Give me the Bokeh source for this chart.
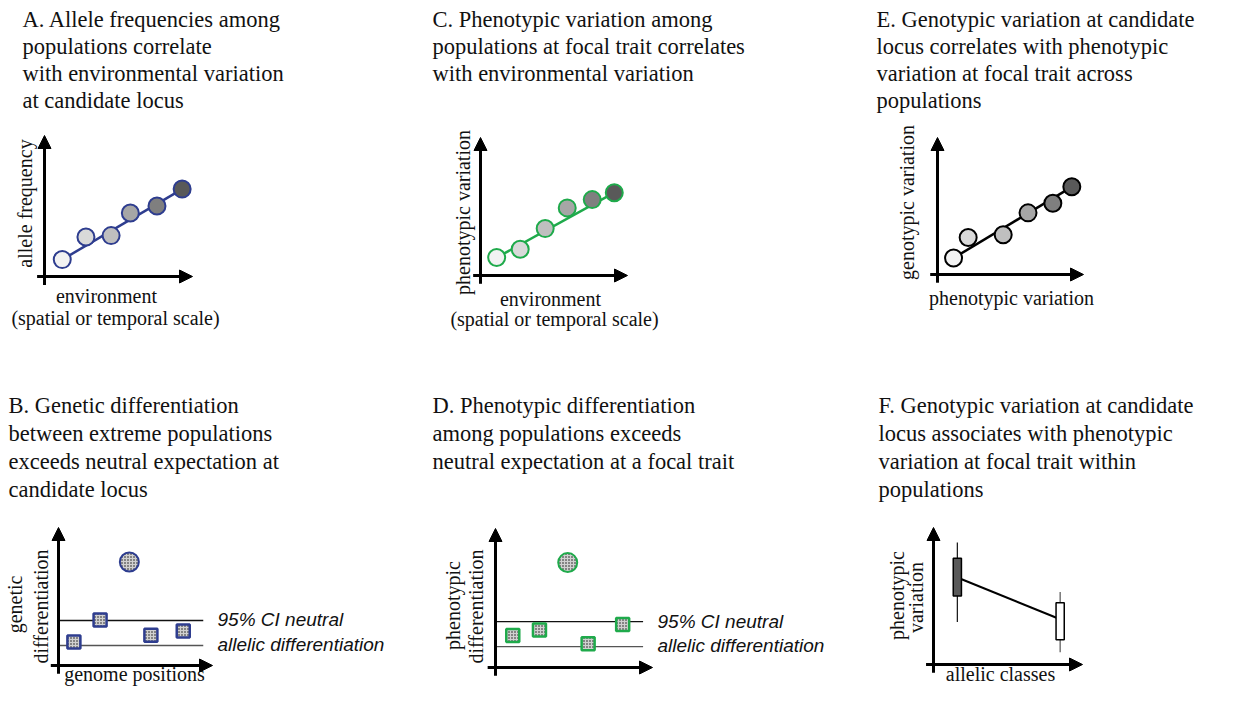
import math
from bokeh.plotting import figure
from bokeh.models import Range1d, Arrow, NormalHead
from bokeh.core.properties import value
from bokeh.embed import file_html
from bokeh.resources import INLINE

# ---------------- data (local units: 10 = arrow tip of each axis) ----------------
population_shades = ["#f2f2f2", "#d9d9d9", "#bfbfbf", "#a6a6a6", "#7f7f7f", "#595959"]

A_environment = [1.2, 2.8, 4.5, 5.8, 7.6, 9.3]
A_allele_frequency = [1.2, 2.8, 2.9, 4.5, 5.0, 6.2]

C_environment = [1.1, 2.7, 4.4, 5.9, 7.6, 9.1]
C_phenotypic_variation = [1.3, 1.9, 3.4, 4.9, 5.5, 6.0]

E_phenotypic_variation = [1.1, 2.1, 4.5, 6.2, 7.9, 9.2]
E_genotypic_variation = [1.2, 2.7, 2.9, 4.5, 5.2, 6.4]

B_genome_positions = [1.0, 2.7, 6.0, 8.1]
B_genetic_differentiation = [1.7, 3.3, 2.2, 2.5]
B_candidate_position = [4.6]
B_candidate_differentiation = [7.5]
B_ci_levels = [3.26, 1.45]

D_trait_positions = [1.1, 2.8, 5.9, 8.1]
D_phenotypic_differentiation = [2.3, 2.7, 1.7, 3.1]
D_candidate_position = [4.6]
D_candidate_differentiation = [7.55]
D_ci_levels = [3.3, 1.5]

F_allelic_classes = [1.6, 8.5]
F_low = [3.1, 0.9]
F_q1 = [5.0, 1.8]
F_median = [6.35, 3.3]
F_q3 = [7.75, 4.5]
F_high = [8.9, 5.3]
F_box_colors = ["#595959", "#ffffff"]

titles = {
    "A": ["A. Allele frequencies among", "populations correlate",
          "with environmental variation", "at candidate locus"],
    "C": ["C. Phenotypic variation among", "populations at focal trait correlates",
          "with environmental variation"],
    "E": ["E. Genotypic variation at candidate", "locus correlates with phenotypic",
          "variation at focal trait across", "populations"],
    "B": ["B. Genetic differentiation", "between extreme populations",
          "exceeds neutral expectation at", "candidate locus"],
    "D": ["D. Phenotypic differentiation", "among populations exceeds",
          "neutral expectation at a focal trait"],
    "F": ["F. Genotypic variation at candidate", "locus associates with phenotypic",
          "variation at focal trait within", "populations"],
}
ci_labels = ["95% CI neutral", "allelic differentiation"]

# ---------------- layout (reference pixel coordinates) ----------------
W, H = 1223, 686

# origin x, origin y, x-arrow tip, y-arrow tip
frames = {
    "A": (44, 276, 192, 135),
    "C": (480, 275, 627, 137),
    "E": (937, 274, 1083, 137),
    "B": (58, 665, 212, 527),
    "D": (495, 667, 652, 528),
    "F": (933, 664, 1082, 527),
}
TITLE_FS, LABEL_FS, CI_FS = 22.5, 20.0, 19.0
OFF = 0.35  # baseline correction (fraction of font size)

title_pos = {"A": (22, 27, 27.0), "C": (432, 27, 27.0), "E": (876, 27, 27.0),
             "B": (8, 413, 28.0), "D": (432, 413, 28.0), "F": (878, 413, 28.0)}

NAVY = "#2e3d8f"
GREEN = "#1faa4b"
SERIF = value("Liberation Serif")
SANS = value("Liberation Sans")
INK = "#111111"

p = figure(width=W, height=H, x_range=Range1d(0, W), y_range=Range1d(H, 0),
           output_backend="svg", toolbar_location=None, min_border=0,
           x_axis_location=None, y_axis_location=None)
p.outline_line_color = None
p.grid.visible = False
p.background_fill_color = "white"
p.border_fill_color = "white"

xr, yr = {}, {}
for name, (ox, oy, tx, ty) in frames.items():
    sx = (tx - ox) / 10.0
    sy = (oy - ty) / 10.0
    xr[name] = Range1d((0 - ox) / sx, (W - ox) / sx)
    yr[name] = Range1d((oy - H) / sy, oy / sy)
p.extra_x_ranges = xr
p.extra_y_ranges = yr

# axes as arrows
for name in frames:
    for xs, ys, xe, ye in [(-0.5, 0, 10, 0), (0, -0.6, 0, 10)]:
        p.add_layout(Arrow(x_start=xs, y_start=ys, x_end=xe, y_end=ye,
                           line_width=3, line_color="black",
                           end=NormalHead(size=13, fill_color="black", line_color="black", line_width=1),
                           x_range_name=name, y_range_name=name))

# scatter panels A, C, E
for name, xs, ys, col in [("A", A_environment, A_allele_frequency, NAVY),
                          ("C", C_environment, C_phenotypic_variation, GREEN),
                          ("E", E_phenotypic_variation, E_genotypic_variation, "black")]:
    p.line([xs[0], xs[-1]], [ys[0], ys[-1]], line_color=col, line_width=2.5,
           x_range_name=name, y_range_name=name)
    p.scatter(xs, ys, size=17, fill_color=population_shades, line_color=col, line_width=2,
              x_range_name=name, y_range_name=name)

# differentiation panels B, D
for name, xs, ys, cx, cy, ci, col in [
        ("B", B_genome_positions, B_genetic_differentiation, B_candidate_position,
         B_candidate_differentiation, B_ci_levels, NAVY),
        ("D", D_trait_positions, D_phenotypic_differentiation, D_candidate_position,
         D_candidate_differentiation, D_ci_levels, GREEN)]:
    p.segment(x0=[0, 0], y0=ci, x1=[9.4, 9.4], y1=ci, line_color=["#111111", "#555555"],
              line_width=1.3, x_range_name=name, y_range_name=name)
    p.scatter(xs, ys, marker="square", size=13, fill_color="#d0d0d0", line_color=col, line_width=2.5,
              hatch_pattern="dot", hatch_color="#111111", hatch_scale=3, hatch_weight=1.5,
              x_range_name=name, y_range_name=name)
    p.scatter(cx, cy, size=19, fill_color="#d0d0d0", line_color=col, line_width=2,
              hatch_pattern="dot", hatch_color="#111111", hatch_scale=3, hatch_weight=1.5,
              x_range_name=name, y_range_name=name)

# box panel F
p.line(F_allelic_classes, F_median, line_color="black", line_width=2,
       x_range_name="F", y_range_name="F")
p.segment(x0=F_allelic_classes, y0=F_low, x1=F_allelic_classes, y1=F_high,
          line_color=["#111111", "#555555"], line_width=1.2, x_range_name="F", y_range_name="F")
p.vbar(x=F_allelic_classes, bottom=F_q1, top=F_q3, width=0.55, fill_color=F_box_colors,
       line_color="black", line_width=1.5, x_range_name="F", y_range_name="F")

# titles
for name, lines in titles.items():
    x0, y0, lh = title_pos[name]
    p.text(x=[x0] * len(lines),
           y=[y0 + i * lh - OFF * TITLE_FS for i in range(len(lines))], text=lines,
           text_font=SERIF, text_font_size=f"{TITLE_FS}px", text_color=INK,
           text_align="left", text_baseline="alphabetic")

# horizontal axis labels
hx = [106, 115, 550, 554, 1011, 134, 1000]
hy = [302, 324, 305, 325, 304, 680, 680]
htxt = ["environment", "(spatial or temporal scale)", "environment", "(spatial or temporal scale)",
        "phenotypic variation", "genome positions", "allelic classes"]
p.text(x=hx, y=[v - OFF * LABEL_FS for v in hy], text=htxt, text_font=SERIF,
       text_font_size=f"{LABEL_FS}px", text_color=INK,
       text_align="center", text_baseline="alphabetic")

# vertical axis labels (rotated)
vx = [31, 469, 913, 21, 47, 459, 482, 903, 922]
vy = [203, 212, 202, 604, 606, 605, 606, 595, 597]
vtxt = ["allele frequency", "phenotypic variation", "genotypic variation",
        "genetic", "differentiation", "phenotypic", "differentiation", "phenotypic", "variation"]
p.text(x=[v - OFF * LABEL_FS for v in vx], y=vy, text=vtxt, angle=math.pi / 2,
       text_font=SERIF, text_font_size=f"{LABEL_FS}px",
       text_color=INK, text_align="center", text_baseline="alphabetic")

# CI labels
cy_ = [626, 651, 628, 652]
p.text(x=[217, 217, 657, 657], y=[v - OFF * CI_FS for v in cy_], text=ci_labels * 2,
       text_font=SANS, text_font_style="italic", text_font_size=f"{CI_FS}px", text_color=INK,
       text_align="left", text_baseline="alphabetic")

open("out.html", "w").write(file_html(p, INLINE))
